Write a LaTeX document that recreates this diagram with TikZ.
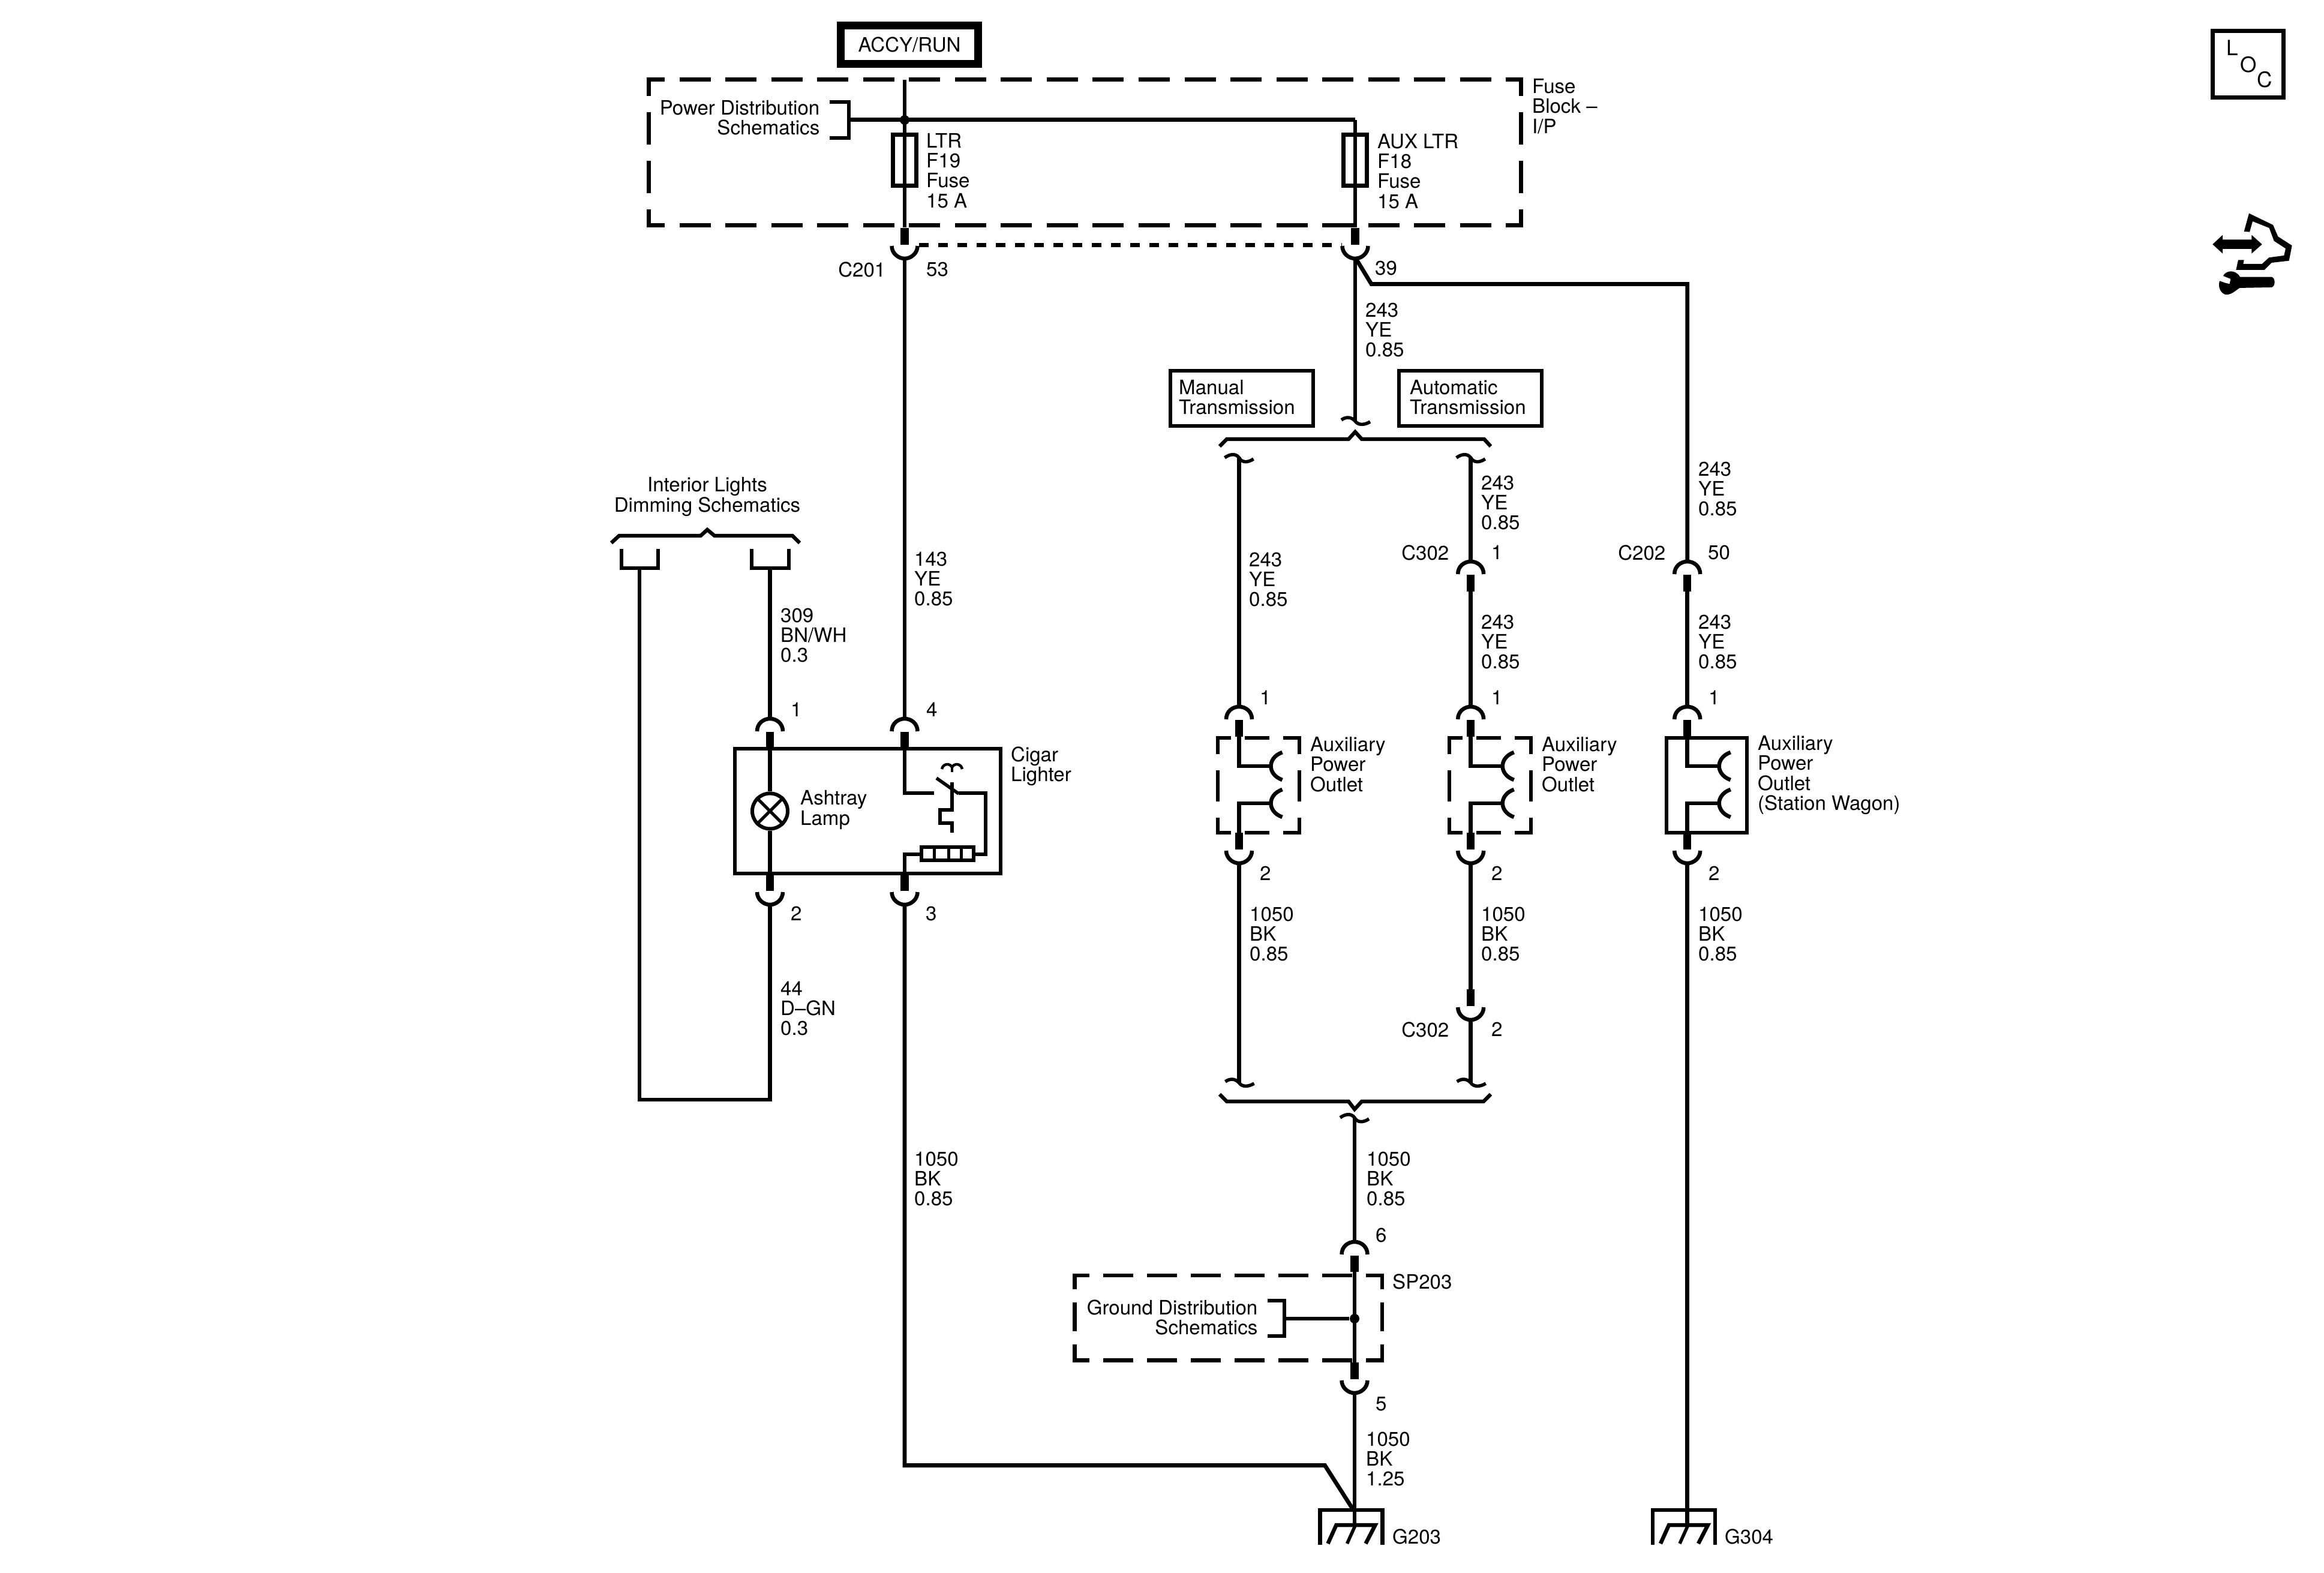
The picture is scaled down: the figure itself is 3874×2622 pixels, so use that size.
\documentclass[tikz,border=0pt]{standalone}
\usepackage{fontspec}
\setmainfont{TeX Gyre Heros}
\newcommand{\txtfont}{\fontsize{9.4}{9.47}\selectfont}
\tikzset{
  wire/.style={line width=0.068cm,line join=miter},
  heavy/.style={line width=0.135cm},
  ln/.style={line width=0.065cm},
  tlab/.style={font=\txtfont,align=left,anchor=west,inner sep=0pt,xshift=-0.015cm},
  rlab/.style={font=\txtfont,align=right,anchor=east,inner sep=0pt},
  clab/.style={font=\txtfont,align=center,anchor=center,inner sep=0pt},
  bx/.style={draw,line width=0.062cm,inner sep=0pt},
  fusebox/.style={draw,line width=0.07cm,inner sep=0pt,minimum width=0.39cm,minimum height=0.84cm},
  dot/.style={circle,fill=black,inner sep=0pt,minimum size=0.16cm},
  fuseH/.style={line width=0.07cm,dash pattern=on 0.52cm off 0.245cm,dash phase=0.22cm},
  fuseV/.style={line width=0.07cm,dash pattern=on 0.545cm off 0.265cm,dash phase=0.24cm},
  spH/.style={line width=0.068cm,dash pattern=on 0.50cm off 0.23cm,dash phase=0.22cm},
  spV/.style={line width=0.068cm,dash pattern=on 0.48cm off 0.22cm,dash phase=0.22cm},
  outH/.style={line width=0.063cm,dash pattern=on 0.41cm off 0.23cm,dash phase=0.16cm},
  outV/.style={line width=0.063cm,dash pattern=on 0.52cm off 0.27cm,dash phase=0.22cm},
  capstub/.pic={
    \draw[ln] (-21.5,24) .. controls (-21.5,11) and (-11,3) .. (0,3) .. controls (11,3) and (21.5,11) .. (21.5,24);
    \draw[heavy] (0,25.5) -- (0,53);
  },
  stubcup/.pic={
    \draw[heavy] (0,-30) -- (0,-2);
    \draw[ln] (-21.5,0) .. controls (-21.5,12) and (-11,21) .. (0,21) .. controls (11,21) and (21.5,12) .. (21.5,0);
  },
  sqtop/.pic={
    \draw[line width=0.055cm] (-24,3) .. controls (-16,-3) and (-6,-5) .. (0,3) .. controls (4,11) and (14,12) .. (24,5);
  },
  sqbot/.pic={
    \draw[line width=0.055cm] (-23,-2) .. controls (-15,-8) and (-6,-7) .. (0,0) .. controls (5,7) and (15,7) .. (25,1);
  },
  socket/.pic={
    \draw[ln] (72,-23) .. controls (58,-18) and (53,-8) .. (53,0) .. controls (53,8) and (58,18) .. (72,23);
  },
  outletguts/.pic={
    \path (0,0) pic {capstub};
    \path (0,243) pic {stubcup};
    \coordinate (-a) at (0,53);
    \coordinate (-b) at (0,102);
    \coordinate (-c) at (53,102);
    \coordinate (-d) at (53,164);
    \coordinate (-e) at (0,164);
    \coordinate (-f) at (0,213);
    \draw[wire] (-a) -- (-b) -- (-c);
    \draw[wire] (-d) -- (-e) -- (-f);
    \path (0,102) pic {socket};
    \path (0,164) pic {socket};
  },
  groundsym/.pic={
    \draw[line width=0.065cm] (-52,57.5) -- (-52,0) -- (52,0) -- (52,57.5);
    \draw[line width=0.065cm] (-39,56) -- (-25,25) -- (40,25) -- (24,56);
    \draw[line width=0.055cm] (7,25) -- (-7,56);
  }
}
\begin{document}
\begin{tikzpicture}[x=0.01cm,y=-0.01cm]
\useasboundingbox (0,0) rectangle (3874,2622);
\fill[white] (0,0) rectangle (3874,2622);

%% ----- top supply
\node[draw,line width=0.13cm,minimum width=2.28cm,minimum height=0.63cm,inner sep=0pt,font=\txtfont] (accy) at (1516,74.5) {ACCY/RUN};

\coordinate (ltrTop) at (1508,133);
\coordinate (ltrEnd) at (1508,379);
\coordinate (auxCorner) at (2259,200);
\coordinate (auxEnd) at (2259,379);
\draw[wire] (ltrTop) -- (ltrEnd);
\draw[wire] (auxCorner) -- (auxEnd);
\coordinate (pdB) at (1415,200);
\draw[wire,line width=0.07cm] (pdB) -- (auxCorner);
\node[dot] (jp) at (1508,200) {};
\node[fusebox] (f19) at (1508,267) {};
\node[fusebox] (f18) at (2259,267) {};
\draw[line width=0.065cm] (1383,170) -- (1415,170) -- (1415,230) -- (1383,230);

\draw[fuseH] (1078,133) -- (2539,133);
\draw[fuseH] (1078,376) -- (2539,376);
\draw[fuseV] (1081.5,129.5) -- (1081.5,379.5);
\draw[fuseV] (2535.5,129.5) -- (2535.5,379.5);

\node[rlab] (pd) at (1367,196) {Power Distribution\\Schematics};
\node[tlab] (ltr) at (1545,284.5) {LTR\\F19\\Fuse\\15 A};
\node[tlab] (aux) at (2297,285.5) {AUX LTR\\F18\\Fuse\\15 A};
\node[tlab] (fb) at (2555,177) {Fuse\\Block --\\I/P};

%% ----- C201
\path (1508,410) pic {stubcup};
\path (2259,410) pic {stubcup};
\coordinate (c201r) at (1532,408.7);
\coordinate (c39l) at (2237,408.7);
\draw[line width=0.065cm,dash pattern=on 0.16cm off 0.16cm] (c201r) -- (c39l);
\node[rlab] (c201) at (1477,449) {C201};
\node[tlab] (n53) at (1545,449) {53};
\node[tlab] (n39) at (2293,447) {39};

%% ----- LTR down to cigar lighter
\coordinate (a0) at (1508,429);
\coordinate (a1) at (1508,1198);
\draw[wire] (a0) -- (a1);
\path (1508,1195) pic {capstub};
\node[tlab] (w143) at (1525,965) {143\\YE\\0.85};
\node[tlab] (n4) at (1545,1183) {4};

%% ----- lamp
\coordinate (l0) at (1283.5,947);
\coordinate (l1) at (1283.5,1198);
\draw[wire] (l0) -- (l1);
\path (1283.5,1195) pic {capstub};
\node[tlab] (n1a) at (1319,1183) {1};
\node[tlab] (w309) at (1302,1059) {309\\BN/WH\\0.3};
\node[bx,minimum width=4.43cm,minimum height=2.08cm] (cigar) at (1446.5,1352) {};
\node[draw,circle,line width=0.06cm,minimum size=0.59cm,inner sep=0pt] (lamp) at (1283.5,1352) {};
\coordinate (lt) at (1283.5,1248);
\coordinate (lb) at (1283.5,1456);
\draw[wire] (lt) -- (lamp.north);
\draw[wire] (lamp.south) -- (lb);
\draw[line width=0.05cm] (lamp.45) -- (lamp.225);
\draw[line width=0.05cm] (lamp.135) -- (lamp.315);
\node[tlab] (ash) at (1335,1350) {Ashtray\\Lamp};
\node[tlab] (cig) at (1686,1277) {Cigar\\Lighter};

%% ----- switch and element
\coordinate (s0) at (1508,1248);
\coordinate (s1) at (1508,1322);
\coordinate (s2) at (1557,1322);
\draw[wire] (s0) -- (s1) -- (s2);
\draw[line width=0.055cm] (1561,1297) -- (1598,1323);
\node[bx,minimum width=0.87cm,minimum height=0.22cm] (res) at (1579.5,1423) {};
\draw[line width=0.05cm] (1557,1412) -- (1557,1434);
\draw[line width=0.05cm] (1581,1412) -- (1581,1434);
\draw[line width=0.05cm] (1602,1412) -- (1602,1434);
\coordinate (s3) at (1598,1322);
\coordinate (s4) at (1643,1322);
\coordinate (s5) at (1643,1424);
\draw[wire] (s3) -- (s4) -- (s5) -- (res.east |- s5);
\coordinate (s6) at (1508,1424);
\coordinate (s7) at (1508,1456);
\draw[wire] (res.west |- s6) -- (s6) -- (s7);
\draw[wire] (1587,1304) -- (1587,1350) -- (1567,1350) -- (1567,1372) -- (1587,1372) -- (1587,1388);
\draw[line width=0.045cm] (1570,1282) .. controls (1572,1272) and (1584,1272) .. (1587,1279) .. controls (1590,1272) and (1602,1272) .. (1604,1282);
\draw[line width=0.045cm] (1587,1279) -- (1587,1287);

%% ----- under lamp and lighter
\path (1283.5,1487) pic {stubcup};
\path (1508,1487) pic {stubcup};
\node[tlab] (n2a) at (1319,1523) {2};
\node[tlab] (n3) at (1544,1523) {3};
\coordinate (d0) at (1283.5,1508);
\coordinate (d1) at (1283.5,1833);
\coordinate (d2) at (1066,1833);
\coordinate (d3) at (1066,947);
\draw[wire] (d0) -- (d1) -- (d2) -- (d3);
\node[tlab] (w44) at (1302,1681) {44\\D--GN\\0.3};

\coordinate (e0) at (1508,1508);
\coordinate (e1) at (1508,2442.6);
\coordinate (e2) at (2208.5,2442.6);
\coordinate (e3) at (2256,2517);
\draw[wire] (e0) -- (e1) -- (e2) -- (e3);
\node[tlab] (w1050a) at (1525,1965) {1050\\BK\\0.85};

%% ----- interior lights
\node[clab] (il) at (1179,828) {Interior Lights\\Dimming Schematics};
\draw[line width=0.062cm] (1019,905) -- (1032,893) -- (1168,893) -- (1179,883) -- (1191,893) -- (1321,893) -- (1333,905);
\draw[line width=0.062cm] (1036,915) -- (1036,947) -- (1097,947) -- (1097,915);
\draw[line width=0.062cm] (1253,915) -- (1253,947) -- (1315,947) -- (1315,915);

%% ----- AUX branch
\coordinate (x0) at (2259,429);
\coordinate (x1) at (2259,702);
\draw[wire] (x0) -- (x1);
\path (2259,702) pic {sqbot};
\node[tlab] (w243a) at (2277,550) {243\\YE\\0.85};
\coordinate (y1) at (2286,473.5);
\coordinate (y2) at (2812.7,473.5);
\coordinate (y3) at (2812.7,936);
\draw[wire] (x0) -- (y1) -- (y2) -- (y3);

\node[bx,minimum width=2.38cm,minimum height=0.92cm] (mt) at (2070,664) {};
\node[bx,minimum width=2.38cm,minimum height=0.92cm] (at) at (2451,664) {};
\node[tlab] (mtt) at (1966,662) {Manual\\Transmission};
\node[tlab] (att) at (2351,662) {Automatic\\Transmission};

\draw[line width=0.062cm] (2033,744) -- (2045,732) -- (2248,732) -- (2259,720) -- (2270,732) -- (2474,732) -- (2485,744);

%% ----- manual branch
\path (2065.5,760) pic {sqtop};
\path (2451.7,760) pic {sqtop};
\coordinate (m0) at (2065.5,762);
\coordinate (m1) at (2065.5,1178);
\draw[wire] (m0) -- (m1);
\node[tlab] (w243m) at (2083,966) {243\\YE\\0.85};

%% ----- automatic branch
\coordinate (b0) at (2451.7,762);
\coordinate (b1) at (2451.7,936);
\draw[wire] (b0) -- (b1);
\path (2451.7,933) pic {capstub};
\coordinate (b2) at (2451.7,986);
\coordinate (b3) at (2451.7,1178);
\draw[wire] (b2) -- (b3);
\node[tlab] (w243b) at (2470,838) {243\\YE\\0.85};
\node[tlab] (w243c) at (2470,1070) {243\\YE\\0.85};
\node[rlab] (c302a) at (2416,921) {C302};
\node[tlab] (n1c) at (2487,921) {1};

%% ----- station wagon branch
\path (2812.7,933) pic {capstub};
\coordinate (g2) at (2812.7,986);
\coordinate (g3) at (2812.7,1178);
\draw[wire] (g2) -- (g3);
\node[tlab] (w243d) at (2832,815) {243\\YE\\0.85};
\node[tlab] (w243e) at (2832,1070) {243\\YE\\0.85};
\node[rlab] (c202) at (2777,921) {C202};
\node[tlab] (n50) at (2848,921) {50};

%% ----- outlets
\path (2065.5,1175) pic (o1) {outletguts};
\path (2451.7,1175) pic (o2) {outletguts};
\path (2812.7,1175) pic (o3) {outletguts};

\draw[outH] (2027,1230) -- (2169,1230);
\draw[outH] (2027,1388) -- (2169,1388);
\draw[outV] (2030,1227) -- (2030,1391);
\draw[outV] (2166,1227) -- (2166,1391);
\draw[outH] (2413,1230) -- (2555,1230);
\draw[outH] (2413,1388) -- (2555,1388);
\draw[outV] (2416,1227) -- (2416,1391);
\draw[outV] (2552,1227) -- (2552,1391);
\node[bx,minimum width=1.34cm,minimum height=1.58cm] (wagon) at (2845,1309) {};

\node[tlab] (n1m) at (2101,1163) {1};
\node[tlab] (n1b) at (2487,1163) {1};
\node[tlab] (n1w) at (2849,1163) {1};
\node[tlab] (n2m) at (2101,1456) {2};
\node[tlab] (n2b) at (2487,1456) {2};
\node[tlab] (n2w) at (2849,1456) {2};
\node[tlab] (ap1) at (2185,1274) {Auxiliary\\Power\\Outlet};
\node[tlab] (ap2) at (2571,1274) {Auxiliary\\Power\\Outlet};
\node[tlab] (ap3) at (2931,1292) {Auxiliary\\Power\\Outlet\\(Station Wagon)};

\node[tlab] (w1050m) at (2084,1557) {1050\\BK\\0.85};
\node[tlab] (w1050b) at (2470,1557) {1050\\BK\\0.85};
\node[tlab] (w1050w) at (2832,1557) {1050\\BK\\0.85};

%% ----- below outlets
\coordinate (q0) at (2065.5,1439);
\coordinate (q1) at (2065.5,1805);
\draw[wire] (q0) -- (q1);
\path (2065.5,1805) pic {sqbot};
\coordinate (r0) at (2451.7,1439);
\coordinate (r1) at (2451.7,1649);
\draw[wire] (r0) -- (r1);
\path (2451.7,1679) pic {stubcup};
\coordinate (r2) at (2451.7,1700);
\coordinate (r3) at (2451.7,1805);
\draw[wire] (r2) -- (r3);
\path (2451.7,1805) pic {sqbot};
\node[rlab] (c302b) at (2416,1716) {C302};
\node[tlab] (n2c) at (2487,1716) {2};

\draw[line width=0.062cm] (2033,1824) -- (2045,1836) -- (2248,1836) -- (2258,1849) -- (2270,1836) -- (2473,1836) -- (2485,1824);

%% ----- splice
\path (2258,1860) pic {sqtop};
\coordinate (t0) at (2258,1862);
\coordinate (t1) at (2258,2070);
\draw[wire] (t0) -- (t1);
\node[tlab] (w1050c) at (2279,1965) {1050\\BK\\0.85};
\path (2258,2067) pic {capstub};
\node[tlab] (n6) at (2294,2059) {6};
\coordinate (t2) at (2258,2120);
\coordinate (t3) at (2258,2273);
\draw[wire] (t2) -- (t3);
\path (2258,2301) pic {stubcup};
\node[tlab] (n5) at (2294,2340) {5};
\node[dot] (js) at (2258,2198) {};
\coordinate (gdB) at (2141,2198);
\draw[wire] (gdB) -- (js);
\draw[line width=0.065cm] (2113,2168) -- (2141,2168) -- (2141,2227) -- (2113,2227);
\draw[spH] (1788,2126) -- (2307,2126);
\draw[spH] (1788,2267.5) -- (2307,2267.5);
\draw[spV] (1791.5,2123) -- (1791.5,2271);
\draw[spV] (2304,2123) -- (2304,2271);
\node[rlab] (gd) at (2097,2196) {Ground Distribution\\Schematics};
\node[tlab] (sp) at (2322,2136) {SP203};

%% ----- grounds
\coordinate (t4) at (2258,2322);
\coordinate (t5) at (2258,2542);
\draw[wire] (t4) -- (t5);
\node[tlab] (w1050d) at (2278,2432) {1050\\BK\\1.25};
\path (2252.5,2517) pic {groundsym};
\node[tlab] (g203) at (2322,2561) {G203};

\coordinate (h0) at (2812.7,1439);
\coordinate (h1) at (2812.7,2542);
\draw[wire] (h0) -- (h1);
\path (2807,2517) pic {groundsym};
\node[tlab] (g304) at (2876,2561) {G304};

%% ----- LOC
\node[draw,line width=0.07cm,minimum width=1.18cm,minimum height=1.11cm,inner sep=0pt] (locbox) at (3747.5,107) {};
\node[font=\fontsize{10}{10}\selectfont,inner sep=0pt] (locl) at (3721,80) {L};
\node[font=\fontsize{10}{10}\selectfont,inner sep=0pt] (loco) at (3748,108) {O};
\node[font=\fontsize{10}{10}\selectfont,inner sep=0pt] (locc) at (3775,133) {C};

%% ----- service icon
\begin{scope}[shift={(3650,0)},scale=0.3333]
\fill (115,1222) -- (165,1175) -- (165,1198) -- (310,1198) -- (310,1175) -- (362,1222) -- (310,1268) -- (310,1245) -- (165,1245) -- (165,1268) -- cycle;
\fill (272,1158) -- (297,1067) -- (417,1125) -- (442,1183) -- (512,1228) -- (497,1304) -- (410,1314) -- (374,1350) -- (232,1350) -- (243,1300) -- (272,1300) -- (268,1320) -- (362,1320) -- (397,1288) -- (472,1278) -- (480,1243) -- (422,1205) -- (398,1140) -- (315,1107) -- (300,1160) -- cycle;
\fill (168,1380) .. controls (175,1358) and (225,1340) .. (252,1385) -- (410,1385) .. controls (430,1390) and (430,1432) .. (410,1437) -- (250,1440) .. controls (230,1452) and (205,1480) .. (175,1472) .. controls (150,1460) and (142,1430) .. (150,1405) -- (178,1415) -- (200,1420) -- (205,1395) -- cycle;
\end{scope}
\end{tikzpicture}
\end{document}
